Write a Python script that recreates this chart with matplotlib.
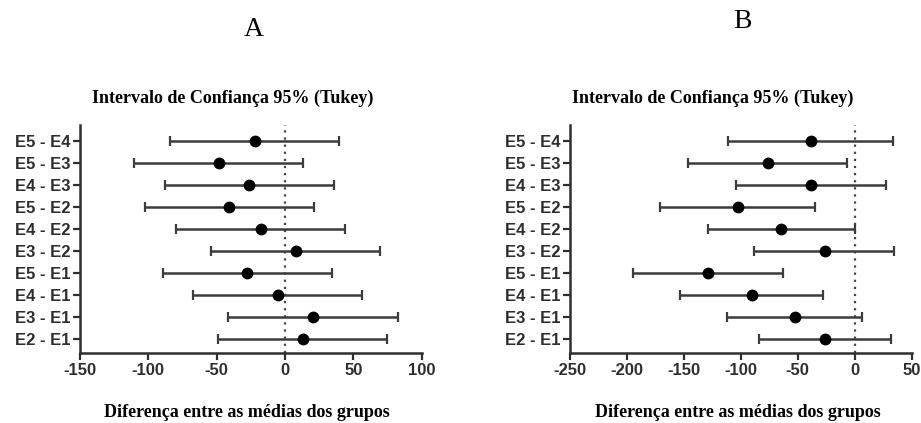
import matplotlib.pyplot as plt
import numpy as np

# Tukey comparisons, listed bottom to top
comparisons = ['E2 - E1', 'E3 - E1', 'E4 - E1', 'E5 - E1', 'E3 - E2',
               'E4 - E2', 'E5 - E2', 'E4 - E3', 'E5 - E3', 'E5 - E4']

# Panel A: mean difference and 95% CI bounds
diff_a = [12.9, 20.2, -5.4, -28.0, 8.0, -17.8, -40.7, -26.1, -48.3, -21.9]
lower_a = [-49.2, -41.5, -67.1, -89.5, -54.4, -80.0, -102.4, -87.8, -110.2, -84.1]
upper_a = [74.9, 82.4, 56.6, 34.2, 69.5, 43.9, 21.2, 35.8, 13.4, 39.8]

# Panel B
diff_b = [-25.9, -52.4, -90.6, -129.1, -26.5, -64.7, -102.6, -38.2, -75.9, -38.2]
lower_b = [-83.8, -111.8, -153.0, -195.0, -88.2, -129.1, -171.2, -104.4, -146.2, -110.9]
upper_b = [31.8, 6.8, -28.0, -63.3, 34.4, 0.0, -34.7, 27.4, -6.8, 33.3]

xticks_a = [-150, -100, -50, 0, 50, 100]
xticks_b = [-250, -200, -150, -100, -50, 0, 50]

title = 'Intervalo de Confiança 95% (Tukey)'
xlabel = 'Diferença entre as médias dos grupos'

serif = ['Liberation Serif', 'DejaVu Serif']
sans = ['Liberation Sans', 'DejaVu Sans']
text_col = '#2e2e2e'
line_col = '#3c3c3c'


def ci_panel(ax, diff, lower, upper, xticks):
    y = np.arange(len(comparisons))
    diff = np.array(diff)
    err = [diff - np.array(lower), np.array(upper) - diff]
    ax.axvline(0, color='#444444', lw=1.6, ls=(0, (1, 2.2)), zorder=1)
    ax.errorbar(diff, y, xerr=err, fmt='o', color='black', ms=7.5,
                ecolor=line_col, elinewidth=1.8, capsize=3.5, capthick=1.6,
                zorder=3)
    ax.set_xlim(xticks[0], xticks[-1])
    ax.set_ylim(-0.635, len(comparisons) - 1 + 0.726)
    ax.set_xticks(xticks)
    ax.set_xticklabels([str(t) for t in xticks], family=sans,
                       fontweight='bold', fontsize=12, color=text_col)
    ax.set_yticks(y)
    ax.set_yticklabels(comparisons, family=sans, fontweight='bold',
                       fontsize=12, color=text_col)
    ax.tick_params(length=5, width=1.6, color=text_col, pad=2)
    for side in ['top', 'right']:
        ax.spines[side].set_visible(False)
    for side in ['left', 'bottom']:
        ax.spines[side].set_linewidth(1.8)
        ax.spines[side].set_color(text_col)


fig = plt.figure(figsize=(9.21, 4.23), dpi=100)
ax_a = fig.add_axes([0.0869, 0.1655, 0.371, 0.539])
ax_b = fig.add_axes([0.6189, 0.1655, 0.371, 0.539])

ci_panel(ax_a, diff_a, lower_a, upper_a, xticks_a)
ci_panel(ax_b, diff_b, lower_b, upper_b, xticks_b)

# Panel letters, titles and axis labels
fig.text(0.275, 0.931, 'A', family=serif, fontsize=20, ha='center', va='center')
fig.text(0.806, 0.948, 'B', family=serif, fontsize=20, ha='center', va='center')
for x in [0.253, 0.774]:
    fig.text(x, 0.768, title, family=serif, fontweight='bold', fontsize=13,
             ha='center', va='center')
for x in [0.268, 0.801]:
    fig.text(x, 0.024, xlabel, family=serif, fontweight='bold', fontsize=13,
             ha='center', va='center')

fig.savefig('out.png', dpi=100)
